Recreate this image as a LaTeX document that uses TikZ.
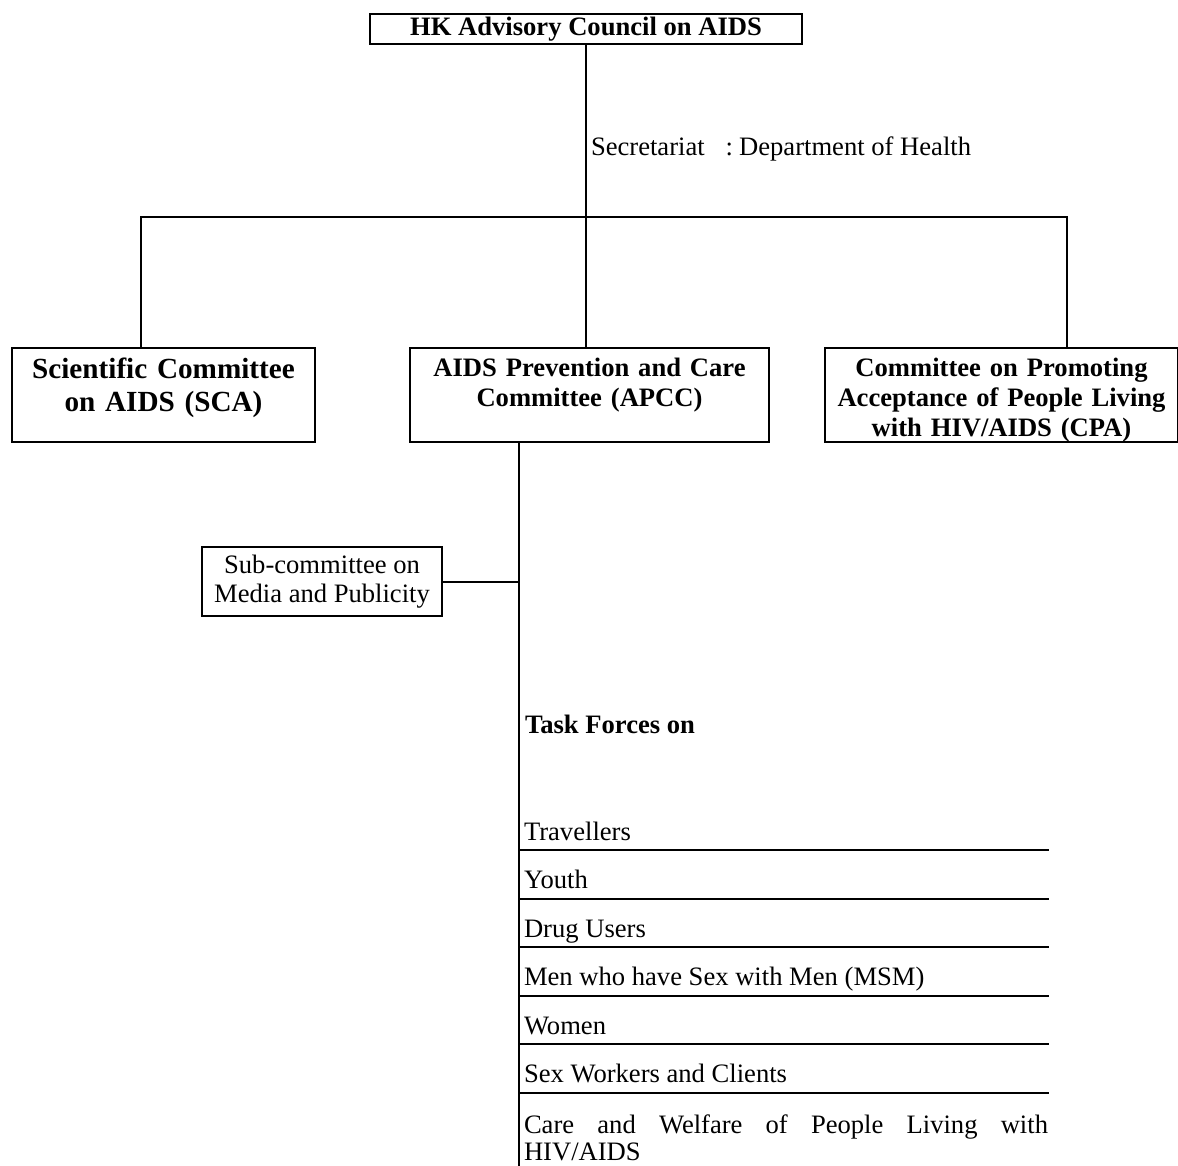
\documentclass[tikz,border=0pt]{standalone}
\usepackage{fontspec}
\setmainfont{Liberation Serif}
\usetikzlibrary{positioning,calc}

\begin{document}
\begin{tikzpicture}[x=0.5pt,y=-0.5pt,line width=1pt,
		committee/.style={draw,anchor=north,align=center,inner sep=0pt,
			font=\bfseries\fontsize{13.3}{15}\selectfont,text height=14pt,text depth=33pt},
		plain/.style={font=\fontsize{13.3}{14.5}\selectfont},
		tfitem/.style={plain,anchor=base west,inner xsep=2pt,inner ysep=2pt,
			text width=262pt,align=justify},
		tfrow/.style={tfitem,text depth=2.5pt}]
	\useasboundingbox (0,0) rectangle (1178,1166);
	% council and its three committees
	\node[draw,inner sep=0pt,minimum width=216pt,minimum height=15pt,
		font=\bfseries\fontsize{13.3}{15}\selectfont] (council) at (586,29) {HK Advisory Council on AIDS};
	\node[anchor=base west,inner sep=0pt,plain] (secr) at (590,156) {Secretariat\hspace{10.5pt}:\hspace{3pt}Department of Health};
	\node[committee,text width=151.5pt,font=\bfseries\fontsize{14.6}{16.5}\selectfont,
		text height=15.3pt,text depth=31.7pt] (sca) at (163.5,347) {Scientific Committee\\on AIDS (SCA)};
	\node[committee,text width=179.5pt] (apcc) at (589.5,347) {AIDS Prevention and Care\\Committee (APCC)};
	\node[committee,text width=176.5pt] (cpa) at (1001.5,347) {Committee on Promoting\\Acceptance of People Living\\with HIV/AIDS (CPA)};
	\coordinate (jl) at (141,217);
	\coordinate (jr) at (1067,217);
	\draw (council.south) -- (council.south |- apcc.north);
	\draw (sca.north -| jl) -- (jl) -- (jr) -- (cpa.north -| jr);
	% under the APCC
	\node[draw,plain,align=center,inner sep=0pt,minimum width=120pt,minimum height=34.5pt] (sub) at (322,581.5) {Sub-committee on\\Media and Publicity};
	\node[anchor=base west,inner sep=0pt,font=\bfseries\fontsize{13.3}{15}\selectfont] (tfhead) at (524,733) {Task Forces on};
	\node[tfrow] (tf1) at (519,840) {Travellers};
	\node[tfrow] (tf2) at (519,888.5) {Youth};
	\node[tfrow] (tf3) at (519,937) {Drug Users};
	\node[tfrow] (tf4) at (519,985.5) {Men who have Sex with Men (MSM)};
	\node[tfrow] (tf5) at (519,1034) {Women};
	\node[tfrow] (tf6) at (519,1082.5) {Sex Workers and Clients};
	\node[tfitem,font=\fontsize{13.3}{13.5}\selectfont] (tf7) at (519,1133) {Care and Welfare of People Living with HIV/AIDS};
	\coordinate (spinetop) at (apcc.south -| tf1.west);
	\coordinate (spinebot) at (519,1166);
	\draw (spinetop) -- (spinebot);
	\draw (sub.east) -- (sub.east -| spinetop);
	\draw (tf1.south west) -- ([xshift=-2pt]tf1.south east);
	\draw (tf2.south west) -- ([xshift=-2pt]tf2.south east);
	\draw (tf3.south west) -- ([xshift=-2pt]tf3.south east);
	\draw (tf4.south west) -- ([xshift=-2pt]tf4.south east);
	\draw (tf5.south west) -- ([xshift=-2pt]tf5.south east);
	\draw (tf6.south west) -- ([xshift=-2pt]tf6.south east);
\end{tikzpicture}
\end{document}
